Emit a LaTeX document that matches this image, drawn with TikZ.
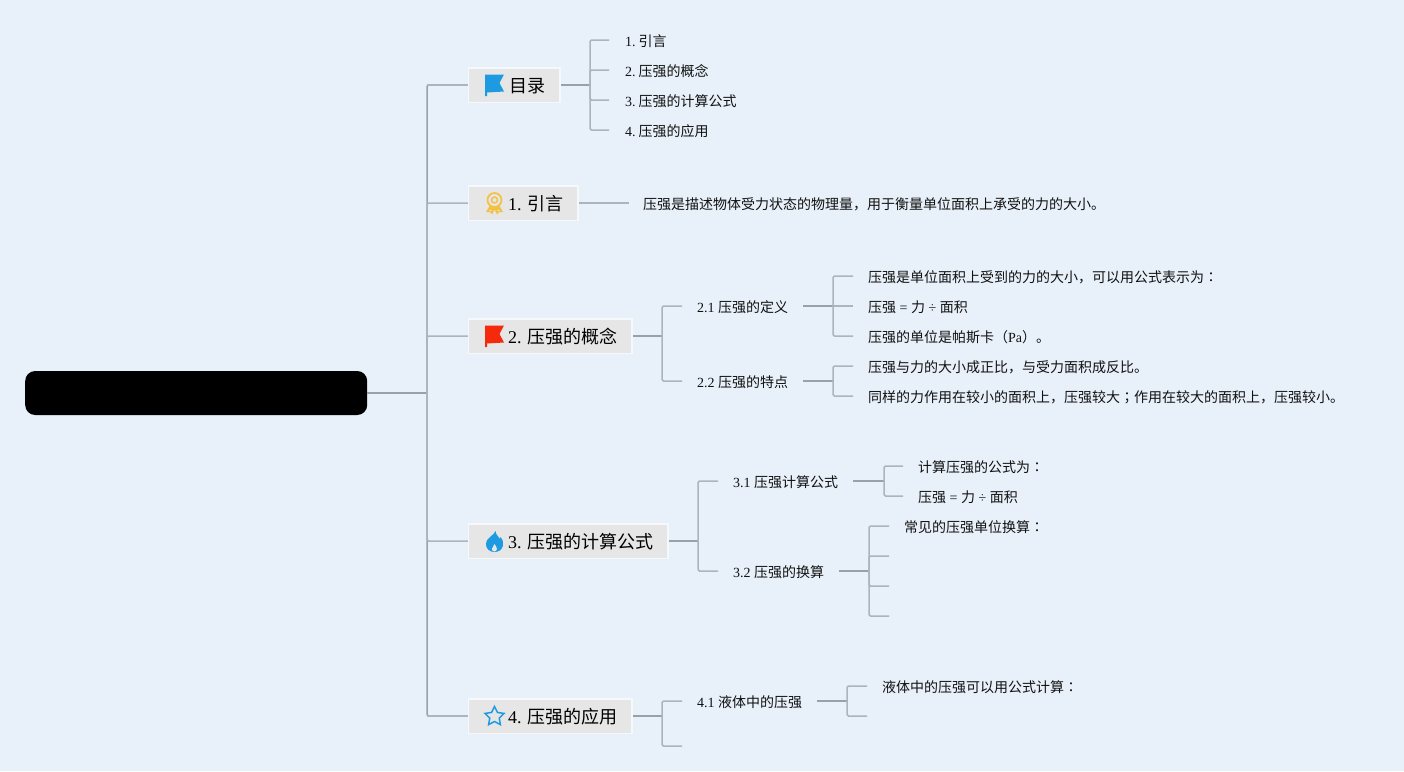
\documentclass[tikz,border=0pt]{standalone}
\usepackage{fontspec}
\setmainfont{Liberation Serif}
\newfontfamily\cjkf{Noto Sans CJK SC}
\newfontfamily\cjkp{Noto Sans CJK TC}
\usetikzlibrary{shapes.geometric}
\newcommand{\cj}[1]{{\cjkf #1}}
\newcommand{\cp}[1]{{\cjkp #1}}
\definecolor{bgc}{HTML}{E8F1F9}
\definecolor{boxc}{HTML}{E6E6E6}
\definecolor{halo}{HTML}{F6F9FC}
\definecolor{linea}{HTML}{9AA1A6}
\definecolor{lineb}{HTML}{ABB5BE}
\definecolor{txt}{HTML}{111111}
\definecolor{iconblue}{HTML}{1E9BE0}
\definecolor{iconred}{HTML}{F5290C}
\definecolor{icongold}{HTML}{F3C244}
\tikzset{
  rootbox/.style={fill=black,rounded corners=10pt,draw=none,minimum width=342pt,minimum height=44pt,inner sep=0pt,anchor=west},
  mainbox/.style={fill=boxc,draw=halo,line width=1.5pt,minimum height=34.5pt,inner xsep=0pt,inner ysep=0pt,anchor=west,text=black,text height=16pt,text depth=1pt,font=\fontsize{18}{20}\selectfont},
  subnode/.style={anchor=west,inner xsep=15pt,inner ysep=0pt,text height=12pt,text depth=2pt,text=txt,font=\fontsize{14}{16}\selectfont},
  leafnode/.style={subnode},
  trunk/.style={draw=linea,line width=1.5pt},
  stem/.style={draw=linea,line width=1.5pt},
  twig/.style={draw=lineb,line width=1.5pt,rounded corners=1.5pt},
}
\begin{document}
\begin{tikzpicture}[x=1pt,y=-1pt]
\useasboundingbox (0,0) rectangle (1404,771);
\fill[bgc] (0,0) rectangle (1404,771);

% root and main branches
\node[rootbox] (root) at (25,393) {};
\node[mainbox,minimum width=91.5pt] (toc) at (467.75,85) {\hspace*{27pt}\cj{目录}};
\node[mainbox,minimum width=109.5pt] (intro) at (467.75,203) {\hspace*{25pt}1. \cj{引言}};
\node[mainbox,minimum width=163.5pt] (cii) at (467.75,336) {\hspace*{25pt}2. \cj{压强的概念}};
\node[mainbox,minimum width=199.5pt] (ciii) at (467.75,541) {\hspace*{25pt}3. \cj{压强的计算公式}};
\node[mainbox,minimum width=163.5pt] (civ) at (467.75,716) {\hspace*{25pt}4. \cj{压强的应用}};

% trunk
\coordinate (jr) at (427,393);
\draw[stem] (root.east) -- (jr);
\draw[trunk,rounded corners=1.5pt] (jr) |- (toc.west);
\draw[trunk,rounded corners=1.5pt] (jr) |- (civ.west);
\draw[twig] (jr) |- (intro.west);
\draw[twig] (jr) |- (cii.west);
\draw[twig] (jr) |- (ciii.west);
\draw[twig] (427,85) -- (toc.west);
\draw[twig] (427,716) -- (civ.west);

% toc leaves
\node[leafnode] (t1) at (610,41) {1.\kern3pt\cj{引言}};
\node[leafnode] (t2) at (610,71) {2.\kern3pt\cj{压强的概念}};
\node[leafnode] (t3) at (610,101) {3.\kern3pt\cj{压强的计算公式}};
\node[leafnode] (t4) at (610,131) {4.\kern3pt\cj{压强的应用}};
\coordinate (jt) at (590,85);
\draw[stem] (toc.east) -- (jt);
\foreach \n/\y in {t1/40,t2/70,t3/100,t4/130}{\draw[twig] (jt) |- (609,\y);}

% intro leaf
\node[leafnode] (i1) at (628,204) {\cj{压强是描述物体受力状态的物理量，用于衡量单位面积上承受的力的大小。}};
\draw[twig] (intro.east) -- (629,203);

% chapter 2
\node[subnode] (d21) at (682,307) {2.1 \cj{压强的定义}};
\node[subnode] (d22) at (682,382) {2.2 \cj{压强的特点}};
\coordinate (j2) at (662,336);
\draw[stem] (cii.east) -- (j2);
\draw[twig] (j2) |- (682,306);
\draw[twig] (j2) |- (682,381);

\node[leafnode] (l211) at (853,277) {\cj{压强是单位面积上受到的力的大小，可以用公式表示为}\cp{：}};
\node[leafnode] (l212) at (853,307) {\cj{压强} = \cj{力} ÷ \cj{面积}};
\node[leafnode] (l213) at (853,337) {\cj{压强的单位是帕斯卡（}Pa\cj{）。}};
\coordinate (j21) at (833,306);
\draw[stem] (803,306) -- (j21);
\draw[twig] (j21) |- (853,276);
\draw[twig] (j21) -- (853,306);
\draw[twig] (j21) |- (853,336);

\node[leafnode] (l221) at (853,367) {\cj{压强与力的大小成正比，与受力面积成反比。}};
\node[leafnode] (l222) at (853,397) {\cj{同样的力作用在较小的面积上，压强较大}\cp{；}\cj{作用在较大的面积上，压强较小。}};
\coordinate (j22) at (833,381);
\draw[stem] (803,381) -- (j22);
\draw[twig] (j22) |- (853,366);
\draw[twig] (j22) |- (853,396);

% chapter 3
\node[subnode] (d31) at (718,482) {3.1 \cj{压强计算公式}};
\node[subnode] (d32) at (718,572) {3.2 \cj{压强的换算}};
\coordinate (j3) at (698,541);
\draw[stem] (ciii.east) -- (j3);
\draw[twig] (j3) |- (718,481);
\draw[twig] (j3) |- (718,571);

\node[leafnode] (l311) at (903,467) {\cj{计算压强的公式为}\cp{：}};
\node[leafnode] (l312) at (903,497) {\cj{压强} = \cj{力} ÷ \cj{面积}};
\coordinate (j31) at (884,481);
\draw[stem] (853,481) -- (j31);
\draw[twig] (j31) |- (903,466);
\draw[twig] (j31) |- (903,496);

\node[leafnode] (l321) at (889,527) {\cj{常见的压强单位换算}\cp{：}};
\coordinate (e322) at (889,556);
\coordinate (e323) at (889,586);
\coordinate (e324) at (889,616);
\coordinate (j32) at (869,571);
\draw[stem] (839,571) -- (j32);
\draw[twig] (j32) |- (889,526);
\draw[twig] (j32) |- (e322);
\draw[twig] (j32) |- (e323);
\draw[twig] (j32) |- (e324);

% chapter 4
\node[subnode] (d41) at (682,702) {4.1 \cj{液体中的压强}};
\coordinate (e42) at (682,746);
\coordinate (j4) at (662,716);
\draw[stem] (civ.east) -- (j4);
\draw[twig] (j4) |- (682,701);
\draw[twig] (j4) |- (e42);

\node[leafnode] (l411) at (867,687) {\cj{液体中的压强可以用公式计算}\cp{：}};
\coordinate (e412) at (867,716);
\coordinate (j41) at (847,701);
\draw[stem] (817,701) -- (j41);
\draw[twig] (j41) |- (867,686);
\draw[twig] (j41) |- (e412);

% icons
\fill[iconblue] (485,74.5) -- (504,74.5) -- (499.5,83) -- (504,91.5) -- (487,92.5) -- (487,96) -- (485,96) -- cycle;
\fill[iconred] (485,325.5) -- (504,325.5) -- (499.5,334) -- (504,342.5) -- (487,343.5) -- (487,347) -- (485,347) -- cycle;
% medal
\begin{scope}[icongold]
\fill (489.5,206) -- (486,212) -- (490,212) -- (492,214.5) -- (494.5,209.5) -- (497,214.5) -- (499,212) -- (503,212) -- (499.5,206) -- cycle;
\fill[boxc] (491,209.5) -- (489,211) -- (491.5,211) -- cycle (498,209.5) -- (500,211) -- (497.5,211) -- cycle;
\draw[line width=1.7pt,fill=boxc] (494.5,200) circle (7pt);
\draw[line width=1.5pt] (494.5,200) circle (3pt);
\end{scope}
% flame
\fill[iconblue] (495.5,531) .. controls (496,536) and (499,536) .. (500,539) -- (500.6,537) .. controls (503,540) and (503.5,543) .. (503,545.5) .. controls (502,550) and (498.5,552) .. (494.5,552) .. controls (490,552) and (486,549) .. (486,544.5) .. controls (486,540) and (488.5,538.5) .. (490.5,536.5) .. controls (492.5,534.5) and (495,533.5) .. (495.5,531) -- cycle;
\fill[boxc] (494.5,544) .. controls (495,546) and (497.5,547) .. (497,549) .. controls (496.7,550.5) and (495.5,551.5) .. (494.5,551.5) .. controls (492.5,551.5) and (491.5,550) .. (492,548.5) .. controls (492.5,547) and (494,546) .. (494.5,544) -- cycle;
% star
\node[star,star points=5,star point ratio=2.0,draw=iconblue,line width=1.5pt,fill=none,minimum size=20pt,inner sep=0pt] (starico) at (494.5,716.5) {};
\end{tikzpicture}
\end{document}
